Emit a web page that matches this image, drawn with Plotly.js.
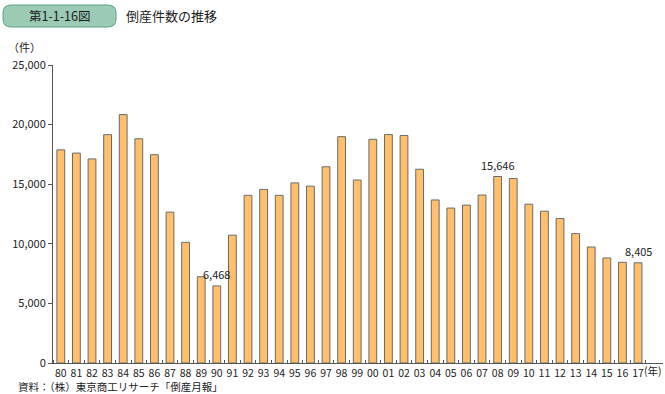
<!DOCTYPE html>
<html><head><meta charset="utf-8">
<script src="https://cdn.plot.ly/plotly-3.0.1.min.js"></script>
<style>html,body{margin:0;padding:0;background:#fff}#chart{width:665px;height:394px}</style>
</head><body><div id="chart"></div>
<script>
const years = ["80","81","82","83","84","85","86","87","88","89","90","91","92","93","94","95","96","97","98","99","00","01","02","03","04","05","06","07","08","09","10","11","12","13","14","15","16","17"];
const counts = [17884,17610,17122,19155,20841,18812,17476,12655,10122,7234,6468,10723,14069,14564,14061,15108,14834,16464,18988,15352,18769,19164,19087,16255,13679,12998,13245,14091,15646,15480,13321,12734,12124,10855,9731,8812,8446,8405];
const labeledYears = ["90","08","17"];
const yTicks = [0,5000,10000,15000,20000,25000];
const yTickText = ["0","5,000","10,000","15,000","20,000","25,000"];

const F = "Noto Sans CJK JP, Noto Sans, sans-serif";
const xIdx = years.map((_, i) => i);

// pixel -> paper helpers (plot area: x 53..663, y 65..363)
const L = 53, W = 610, T = 65, H = 298;
const px = v => (v - L) / W;
const py = v => (T + H - v) / H;

const annotations = labeledYears.map(y => {
  const i = years.indexOf(y);
  return {x: i, y: counts[i], xref:'x', yref:'y', text: counts[i].toLocaleString('en-US'),
    showarrow:false, yanchor:'bottom', yshift:2, font:{family:F, size:11, color:'#222'}};
});
annotations.push(
  {xref:'paper', yref:'paper', x:px(43), y:py(47), xanchor:'right', yanchor:'middle', text:'（件）', showarrow:false, font:{family:F,size:11,color:'#222'}},
  {xref:'paper', yref:'paper', x:px(664), y:py(370), xanchor:'right', yanchor:'middle', text:'(年)', showarrow:false, font:{family:F,size:10.5,color:'#222'}},
  {xref:'paper', yref:'paper', x:px(16), y:py(387), xanchor:'left', yanchor:'middle', text:'資料：（株）東京商工リサーチ「倒産月報」', showarrow:false, font:{family:F,size:10.5,color:'#222'}},
  {xref:'paper', yref:'paper', x:px(59), y:py(16), xanchor:'center', yanchor:'middle', text:'第1-1-16図', showarrow:false, font:{family:F,size:12.5,color:'#1a1a1a'}},
  {xref:'paper', yref:'paper', x:px(124), y:py(16), xanchor:'left', yanchor:'middle', text:'倒産件数の推移', showarrow:false, font:{family:F,size:13,color:'#1a1a1a'}}
);

// rounded pill path in paper coords
const x0=3, x1=116, y0=5, y1=27, r=8;
const pill = `M ${px(x0+r)} ${py(y0)} L ${px(x1-r)} ${py(y0)} Q ${px(x1)} ${py(y0)} ${px(x1)} ${py(y0+r)} L ${px(x1)} ${py(y1-r)} Q ${px(x1)} ${py(y1)} ${px(x1-r)} ${py(y1)} L ${px(x0+r)} ${py(y1)} Q ${px(x0)} ${py(y1)} ${px(x0)} ${py(y1-r)} L ${px(x0)} ${py(y0+r)} Q ${px(x0)} ${py(y0)} ${px(x0+r)} ${py(y0)} Z`;

const data = [{
  type:'bar', x: xIdx, y: counts, width: 0.5,
  marker:{color:'#FFBF6B', line:{color:'#6a6a6a', width:1}},
  hoverinfo:'skip'
}];

const layout = {
  width:665, height:394,
  margin:{l:L, r:665-L-W, t:T, b:394-T-H},
  paper_bgcolor:'#fff', plot_bgcolor:'#fff',
  showlegend:false,
  font:{family:F, size:11, color:'#222'},
  xaxis:{
    range:[-0.5, 38.6], tickmode:'array', tickvals:xIdx, ticktext:years,
    ticks:'', showline:true, linecolor:'#555', linewidth:1, showgrid:false, zeroline:false,
    tickfont:{family:F,size:10.5,color:'#222'},
    minor:{tickmode:'array', tickvals: xIdx.map(i=>i-0.5).concat([years.length-0.5]), ticks:'inside', ticklen:3, tickcolor:'#555', tickwidth:1, showgrid:false}
  },
  yaxis:{
    range:[0,25000], tickmode:'array', tickvals:yTicks, ticktext:yTickText,
    ticks:'outside', ticklen:4, tickcolor:'#555', showline:true, linecolor:'#555', linewidth:1,
    showgrid:false, zeroline:false, tickfont:{family:F,size:11,color:'#222'}
  },
  annotations: annotations,
  shapes:[{type:'path', xref:'paper', yref:'paper', path: pill,
    fillcolor:'#9BCAB5', line:{color:'#5E9E84', width:1}, layer:'below'}]
};
Plotly.newPlot('chart', data, layout, {staticPlot:true, displayModeBar:false});
</script></body></html>
